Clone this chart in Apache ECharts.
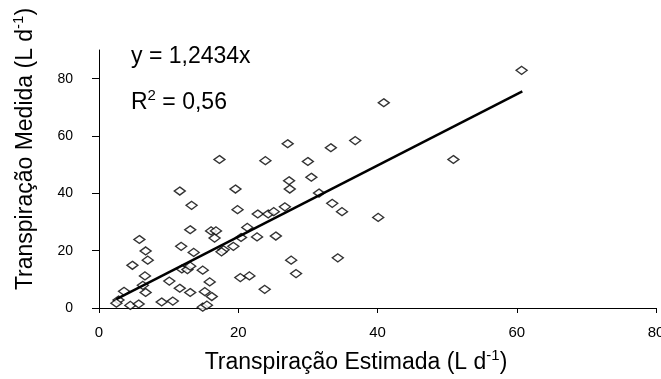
<!DOCTYPE html>
<html>
<head>
<meta charset="utf-8">
<script src="https://cdn.jsdelivr.net/npm/echarts@6/dist/echarts.min.js"></script>
<style>
  html, body { margin: 0; padding: 0; background: #fff; }
  #chart { width: 661px; height: 379px; }
</style>
</head>
<body>
<div id="chart"></div>
<script>
    // pontos medidos x estimados
    var estimada = [60.7, 40.9, 50.9, 40.1, 36.8, 33.3, 27.1, 17.3, 23.9, 30.0, 30.5, 27.3, 27.4, 31.6, 19.6,
        11.6, 13.3, 19.9, 33.5, 34.9, 26.7, 22.8, 24.3, 25.1, 21.3, 16.1, 16.8, 13.1, 16.6, 20.4, 22.7, 25.4,
        19.3, 17.9, 17.6, 5.8, 6.7, 7.0, 11.8, 13.6, 4.8, 6.6, 11.9, 12.7, 13.1, 14.9, 10.1, 15.9, 11.6, 13.1,
        6.7, 6.3, 3.6, 2.8, 2.5, 4.5, 5.7, 9.0, 10.6, 15.2, 16.2, 14.9, 15.5, 20.3, 21.6, 23.8, 27.6, 28.3, 34.3];
    var medida = [82.9, 71.6, 51.8, 31.6, 58.4, 55.9, 57.3, 51.8, 51.4, 51.1, 45.6, 44.4, 41.5, 40.1, 41.5,
        40.8, 35.8, 34.3, 36.5, 33.6, 35.3, 32.8, 32.8, 33.6, 28.1, 26.9, 26.9, 27.3, 24.4, 24.6, 24.8, 25.1,
        21.5, 20.3, 19.6, 23.9, 19.9, 16.7, 21.5, 19.4, 14.9, 11.2, 13.6, 13.4, 14.6, 13.2, 9.4, 9.1, 6.9, 5.4,
        5.4, 7.9, 5.8, 2.8, 1.7, 0.9, 1.4, 2.1, 2.4, 5.7, 4.0, 0.3, 1.0, 10.6, 11.2, 6.5, 16.7, 12.0, 17.5];

    // reta ajustada (extremos)
    var retaX = [2.5, 60.8];
    var retaY = [3.1, 75.6];

    var xTicks = [0, 20, 40, 60, 80];
    var yTicks = [0, 20, 40, 60, 80];

    var fonte = 'Liberation Sans, Arial, sans-serif';

    var pontos = estimada.map(function (v, i) { return [v, medida[i]]; });
    var reta = retaX.map(function (v, i) { return [v, retaY[i]]; });

    // texto normal + expoente
    var rico = {
        t: { fontSize: 23, fontFamily: fonte, fill: '#000', lineHeight: 26, verticalAlign: 'bottom' },
        s: { fontSize: 15, fontFamily: fonte, fill: '#000', lineHeight: 15, verticalAlign: 'top' }
    };

    var myChart = echarts.init(document.getElementById('chart'));

    var option = {
        animation: false,
        backgroundColor: '#fff',
        grid: {
            left: 99,
            right: 5,
            top: 50,
            bottom: 71,
            outerBoundsMode: 'none',
            containLabel: false
        },
        xAxis: {
            type: 'value',
            min: 0,
            max: 80,
            interval: 20,
            splitLine: { show: false },
            axisLine: { onZero: false, lineStyle: { color: '#000', width: 1 } },
            axisTick: { inside: false, length: 5, customValues: xTicks, lineStyle: { color: '#000' } },
            axisLabel: {
                customValues: xTicks,
                color: '#000',
                fontFamily: fonte,
                fontSize: 15,
                margin: 17
            }
        },
        yAxis: {
            type: 'value',
            min: 0,
            max: 90,
            interval: 20,
            splitLine: { show: false },
            axisLine: { show: true, lineStyle: { color: '#000', width: 1 } },
            axisTick: { show: true, length: 7, customValues: yTicks, lineStyle: { color: '#000' } },
            axisLabel: {
                customValues: yTicks,
                color: '#000',
                fontFamily: fonte,
                fontSize: 14,
                margin: 26
            }
        },
        graphic: [
            {
                type: 'text',
                x: 131,
                y: 57,
                style: {
                    text: 'y = 1,2434x',
                    font: '23px ' + fonte,
                    fill: '#000',
                    verticalAlign: 'middle'
                }
            },
            {
                type: 'text',
                x: 131,
                y: 101,
                style: {
                    text: '{t|R}{s|2}{t| = 0,56}',
                    fill: '#000',
                    verticalAlign: 'middle',
                    rich: rico
                }
            },
            {
                type: 'text',
                x: 356,
                y: 361,
                style: {
                    text: '{t|Transpiração Estimada (L d}{s|-1}{t|)}',
                    fill: '#000',
                    align: 'center',
                    verticalAlign: 'middle',
                    rich: rico
                }
            },
            {
                type: 'text',
                x: 24,
                y: 149,
                rotation: Math.PI / 2,
                style: {
                    text: '{t|Transpiração Medida (L d}{s|-1}{t|)}',
                    fill: '#000',
                    align: 'center',
                    verticalAlign: 'middle',
                    rich: rico
                }
            }
        ],
        series: [
            {
                name: 'medida',
                type: 'scatter',
                symbol: 'diamond',
                symbolSize: [11, 8],
                itemStyle: { color: '#fff', borderColor: '#000', borderWidth: 1.4 },
                data: pontos
            },
            {
                name: 'reta',
                type: 'line',
                symbol: 'none',
                lineStyle: { color: '#000', width: 2.5 },
                data: reta
            }
        ]
    };

    myChart.setOption(option);
</script>
</body>
</html>
